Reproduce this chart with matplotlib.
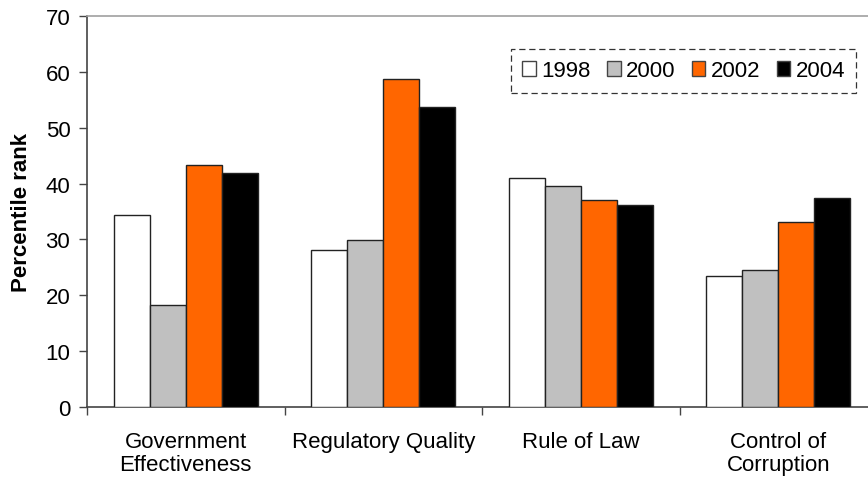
import numpy as np
import matplotlib
matplotlib.use("Agg")
import matplotlib.pyplot as plt

plt.rcParams["font.family"] = ["Liberation Sans", "DejaVu Sans"]

CATEGORIES = ["Government\nEffectiveness", "Regulatory Quality", "Rule of Law", "Control of\nCorruption"]
YEARS = ["1998", "2000", "2002", "2004"]
VALUES = {
    "1998": [34.4, 28.2, 41.0, 23.5],
    "2000": [18.3, 29.9, 39.5, 24.6],
    "2002": [43.4, 58.6, 37.1, 33.1],
    "2004": [41.9, 53.7, 36.2, 37.4],
}
COLORS = ["#FFFFFF", "#C0C0C0", "#FF6600", "#000000"]

W, H = 868, 481
fig = plt.figure(figsize=(W / 100, H / 100), dpi=100)
# axes runs a bit past the right edge, like the cropped original
ax = fig.add_axes([87 / W, 1 - 408.3 / H, 790 / W, 391.6 / H])

x = np.arange(len(CATEGORIES))
bw = 0.182
for i, (yr, col) in enumerate(zip(YEARS, COLORS)):
    ax.bar(x + (i - 1.5) * bw, VALUES[yr], bw, color=col, edgecolor="#222222",
           linewidth=1.0, label=yr, zorder=3)

ax.set_xlim(-0.5, 3.5)
ax.set_ylim(0, 70)
ax.set_yticks(range(0, 71, 10))
ax.tick_params(axis="y", labelsize=16, length=6, width=1, color="#444444", pad=6)

ax.set_xticks(x)
ax.set_xticklabels(CATEGORIES, fontsize=16, linespacing=1.12)
ax.tick_params(axis="x", which="major", length=0, pad=17)
ax.set_xticks(np.arange(-0.5, 3.6, 1), minor=True)
ax.tick_params(axis="x", which="minor", length=6, width=1, color="#444444")

ax.set_ylabel("Percentile rank", fontsize=16, fontweight="bold", labelpad=10)

for side in ["left", "bottom"]:
    ax.spines[side].set_color("#444444")
    ax.spines[side].set_linewidth(1.2)
ax.spines["top"].set_color("#A0A0A0")
ax.spines["top"].set_linewidth(1.2)
ax.spines["right"].set_visible(False)

leg = ax.legend(ncol=4, loc="upper right", bbox_to_anchor=(0.974, 0.914),
                borderaxespad=0, fontsize=16, frameon=True, fancybox=False,
                handlelength=0.62, handleheight=0.62, handletextpad=0.25,
                columnspacing=0.72, borderpad=0.5)
frame = leg.get_frame()
frame.set_edgecolor("#000000")
frame.set_linestyle((0, (5, 3)))
frame.set_linewidth(0.9)
for p in leg.get_patches():
    p.set_edgecolor("#444444")

fig.savefig("out.png", dpi=100)
